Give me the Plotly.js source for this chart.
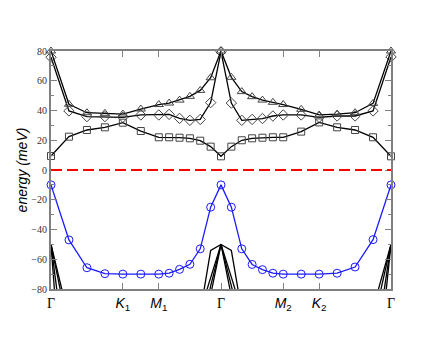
<!DOCTYPE html>
<html>
<head>
<meta charset="utf-8">
<script src="https://cdn.plot.ly/plotly-3.0.1.min.js"></script>
<style>html,body{margin:0;padding:0;background:#fff;}#chart{width:440px;height:340px;}</style>
</head>
<body>
<div id="chart"></div>
<script>
// k-path coordinates (Γ-K = 1, K-M = 0.5, M-Γ = 0.866)
var kpath = [0, 0.25, 0.5, 0.75, 1, 1.25, 1.5, 1.644, 1.789, 1.933, 2.077, 2.222, 2.366,
             2.510, 2.655, 2.799, 2.943, 3.088, 3.232, 3.482, 3.732, 3.982, 4.232, 4.482, 4.732];
var tickPos = [0, 1, 1.5, 2.366, 3.232, 3.732, 4.732];
var tickLabels = ['<span style="font-family:Liberation Serif">Γ</span>', '<i>K</i><sub>1</sub>', '<i>M</i><sub>1</sub>',
                  '<span style="font-family:Liberation Serif">Γ</span>', '<i>M</i><sub>2</sub>', '<i>K</i><sub>2</sub>',
                  '<span style="font-family:Liberation Serif">Γ</span>'];

var bandTriangle = [80, 44.2, 38.5, 38.1, 37.6, 41, 44, 45, 47, 49.5, 53.5, 62, 80,
                    62.3, 52.7, 49.3, 47, 45.5, 44, 40.8, 37, 37.6, 38.5, 44.8, 80];
var bandDiamond  = [75.8, 39.7, 35.9, 35.9, 35.4, 37, 37, 37.4, 34.7, 33.4, 34, 45.3, 79.5,
                    45, 33.4, 34, 34.6, 36.3, 37, 37, 35.4, 36.3, 36.3, 39.7, 76];
var bandSquare   = [9.4, 22.4, 26.9, 28.7, 31.8, 26.2, 22, 22, 21.7, 21.3, 19.7, 15.7, 9.2,
                    15.7, 20, 21.3, 21.7, 22, 22, 25.8, 32, 28.7, 26.9, 22, 9.2];
var bandCircle   = [-10, -47, -65.7, -69.7, -70, -70, -70, -69.4, -66.8, -63.4, -53, -25, -10,
                    -25, -53, -63.5, -67, -69.4, -70, -70, -70, -69.4, -65.2, -46.8, -10];
// lower bands: only the parts near Γ reach the visible window
var low1 = [-50, -100, null, null, null, null, null, null, null, null, -96, -54, -50,
            -54, -95, null, null, null, null, null, null, null, null, -93, -50];
var low2 = [-50, -109, null, null, null, null, null, null, null, null, -95, -72.6, -50,
            -72, -95, null, null, null, null, null, null, null, null, -104, -50];
var low3 = [-50, -144, null, null, null, null, null, null, null, null, -110, -78, -50,
            -77, -106, null, null, null, null, null, null, null, null, -131, -50];
var low4 = [-50, -210, null, null, null, null, null, null, null, null, -130, -84, -50,
            -85, -120, null, null, null, null, null, null, null, null, -165, -50];

var traces = [];
[low1, low2, low3, low4].forEach(function (b) {
  traces.push({x: kpath, y: b, mode: 'lines', line: {color: '#000', width: 1.3}, hoverinfo: 'skip'});
});
function markerTrace(y, sym, size, col, lcol) {
  return {x: kpath, y: y, mode: 'lines+markers', cliponaxis: false,
          line: {color: lcol, width: 1.3},
          marker: {symbol: sym, size: size, color: col, line: {color: col, width: 1}}};
}
traces.push(markerTrace(bandSquare, 'square-open', 7, '#444', '#000'));
traces.push(markerTrace(bandDiamond, 'diamond-open', 8, '#444', '#000'));
traces.push(markerTrace(bandTriangle, 'triangle-up-open', 8, '#444', '#000'));
traces.push(markerTrace(bandCircle, 'circle-open', 8, '#1a1aff', '#1a1aff'));

var layout = {
  width: 440, height: 340,
  margin: {l: 51, r: 49, t: 51, b: 51},
  paper_bgcolor: '#fff', plot_bgcolor: '#fff',
  showlegend: false,
  xaxis: {
    range: [0, 4.732], tickmode: 'array', tickvals: tickPos, ticktext: tickLabels,
    ticks: 'inside', ticklen: 6, tickcolor: '#808080', tickwidth: 1,
    showline: true, linecolor: '#808080', linewidth: 2, mirror: 'ticks',
    showgrid: false, zeroline: false,
    tickfont: {family: 'Liberation Sans', size: 14, color: '#000'}
  },
  yaxis: {
    range: [-80, 80], dtick: 20, tick0: 0,
    ticks: 'inside', ticklen: 6, tickcolor: '#808080', tickwidth: 1,
    minor: {dtick: 10, ticks: 'inside', ticklen: 3, tickcolor: '#808080'},
    showline: true, linecolor: '#808080', linewidth: 2, mirror: 'ticks',
    showgrid: false, zeroline: false,
    tickfont: {family: 'Liberation Serif', size: 10, color: '#333'},
    title: {text: '<i>energy (meV)</i>', font: {family: 'Liberation Sans', size: 14, color: '#000'}, standoff: 0}
  },
  shapes: [{type: 'line', xref: 'paper', x0: 0, x1: 1, yref: 'y', y0: 0, y1: 0,
            line: {color: '#ff0000', width: 2, dash: '11px,5px'}}]
};
Plotly.newPlot('chart', traces, layout, {displayModeBar: false, staticPlot: true});
</script>
</body>
</html>
